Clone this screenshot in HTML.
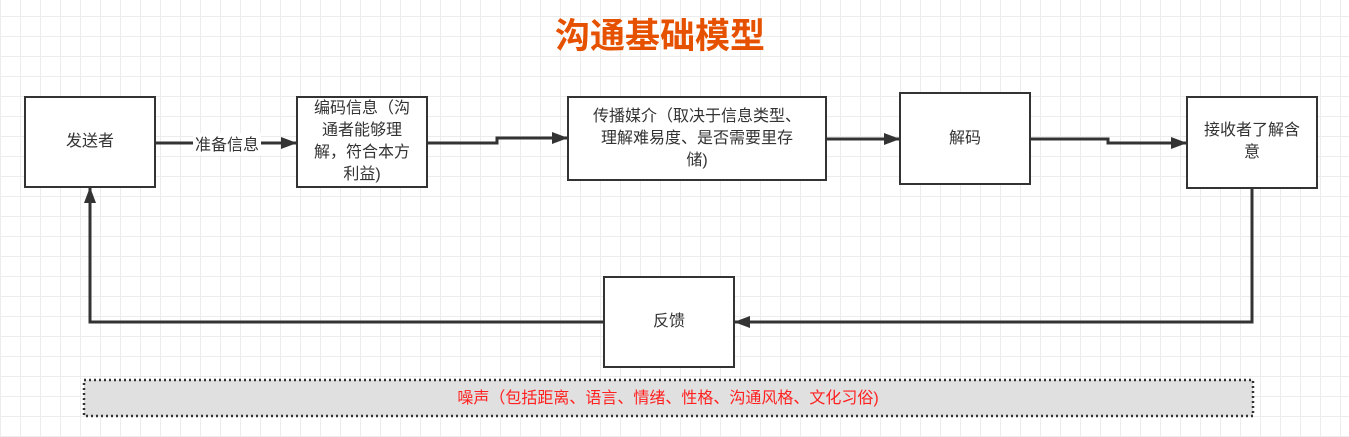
<!DOCTYPE html>
<html><head><meta charset="utf-8"><style>
body{margin:0;width:1349px;height:437px;overflow:hidden;background:#fff;
background-image:linear-gradient(#ececec 1px,transparent 1px),linear-gradient(90deg,#ececec 1px,transparent 1px);
background-size:20px 20px;background-position:0 16px,0 0;font-family:"Liberation Sans","Noto Sans CJK SC",sans-serif;position:relative}
.b{position:absolute;border:2.5px solid #333;background:#fff;box-sizing:border-box;display:flex;align-items:center;justify-content:center;text-align:center;font-size:16px;color:#333;line-height:22px;padding:0 2px;white-space:nowrap}
.t{position:absolute;left:555px;top:8px;font-size:35px;font-weight:bold;color:#e65100;font-family:"Noto Sans CJK SC",sans-serif}
</style></head><body>
<div class="t">沟通基础模型</div>
<svg width="1349" height="437" style="position:absolute;left:0;top:0">
<defs><marker id="a" markerWidth="16" markerHeight="12" refX="15" refY="6" orient="auto" markerUnits="userSpaceOnUse"><path d="M0,0 L16,6 L0,12z" fill="#333"/></marker></defs>
<g stroke="#333" stroke-width="3" fill="none">
<path d="M155 143 H296" marker-end="url(#a)"/>
<path d="M427 143 H497 V138 H567" marker-end="url(#a)"/>
<path d="M826 139 H899" marker-end="url(#a)"/>
<path d="M1030 139 H1108 V143 H1186" marker-end="url(#a)"/>
<path d="M1252 188 V322 H735" marker-end="url(#a)"/>
<path d="M604 322 H90 V188" marker-end="url(#a)"/>
</g>
<rect x="193" y="133" width="68" height="22" fill="#fff"/>
<text x="227" y="150" font-size="16" fill="#333" text-anchor="middle" font-family="Liberation Sans,Noto Sans CJK SC,sans-serif">准备信息</text>
<rect x="84" y="380" width="1169" height="36" fill="#e0e0e0" stroke="#333" stroke-width="2.5" stroke-dasharray="2,3"/>
<text x="668" y="403" font-size="16" fill="#ff2020" text-anchor="middle" font-family="Liberation Sans,Noto Sans CJK SC,sans-serif">噪声（包括距离、语言、情绪、性格、沟通风格、文化习俗)</text>
</svg>
<div class="b" style="left:24px;top:96px;width:132px;height:92px">发送者</div>
<div class="b" style="left:296px;top:96px;width:132px;height:92px">编码信息（沟<br>通者能够理<br>解，符合本方<br>利益)</div>
<div class="b" style="left:567px;top:96px;width:260px;height:85px">传播媒介（取决于信息类型、<br>理解难易度、是否需要里存<br>储)</div>
<div class="b" style="left:899px;top:92px;width:132px;height:93px">解码</div>
<div class="b" style="left:1186px;top:96px;width:132px;height:93px;align-items:flex-start;padding-top:22px">接收者了解含<br>意</div>
<div class="b" style="left:603px;top:276px;width:132px;height:92px">反馈</div>
</body></html>
